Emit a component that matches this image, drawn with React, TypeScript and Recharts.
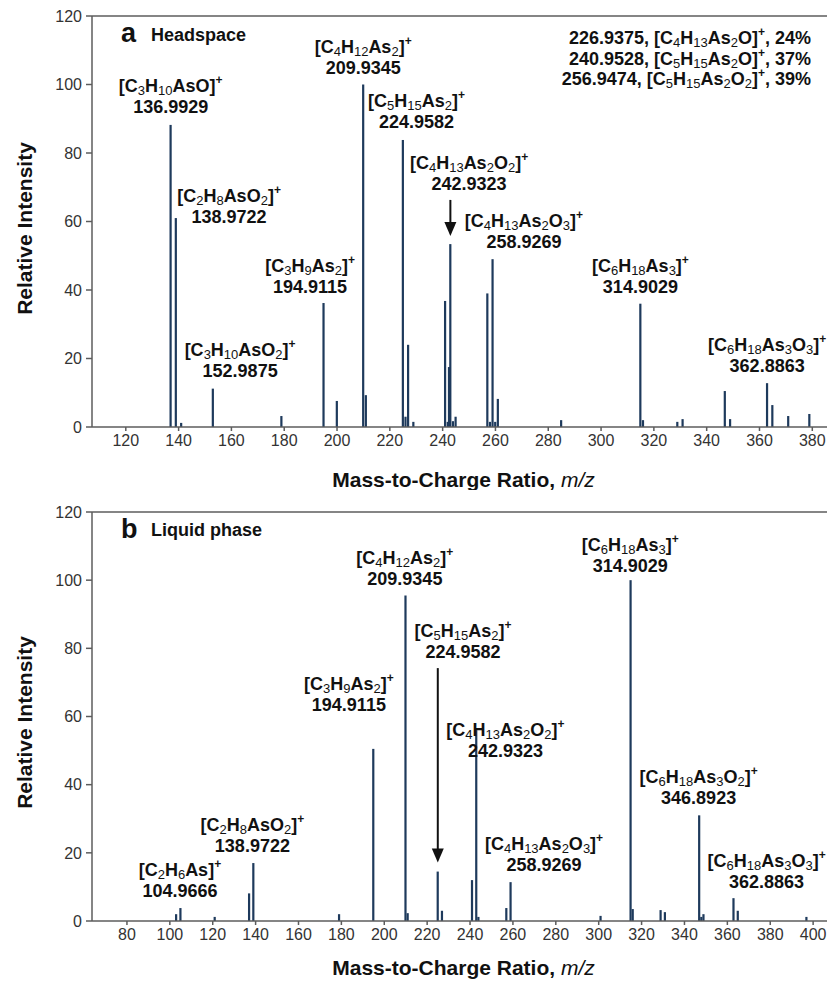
import React from "react";
import {
  BarChart,
  Bar,
  XAxis,
  YAxis,
  ReferenceLine,
  ReferenceDot,
} from "recharts";

const FONT = "'Liberation Sans', Arial, Helvetica, sans-serif";
const BAR = "#1e3a5c";
const AXIS = "#5c5c5c";
const INK = "#111";

// (a) headspace spectrum
const headspaceMz = [
  136.99, 138.97, 140.99, 152.99, 178.95, 194.91, 199.95, 209.93, 210.94,
  224.96, 225.96, 226.94, 228.93, 240.95, 241.95, 242.43, 242.93, 243.93,
  244.93, 256.95, 257.95, 258.93, 259.93, 260.93, 284.9, 314.9, 315.9, 328.9,
  330.9, 346.89, 348.89, 362.89, 364.89, 370.9, 378.9,
];
const headspaceIntensity = [
  88.2, 61, 1.2, 11.2, 3.2, 36.2, 7.6, 100, 9.3, 83.8, 3, 24, 1.5, 36.8, 1.5,
  17.5, 53.4, 1.7, 3, 39, 1.5, 49, 1.5, 8.2, 2, 36, 2, 1.5, 2.3, 10.5, 2.3,
  12.8, 6.4, 3.2, 3.8,
];

// (b) liquid phase spectrum
const liquidMz = [
  102.96, 104.97, 120.95, 136.99, 138.97, 178.95, 194.91, 209.93, 210.94,
  224.96, 226.94, 240.95, 242.93, 243.93, 256.95, 258.93, 300.9, 314.9, 315.9,
  328.9, 330.9, 346.89, 347.89, 348.89, 362.89, 364.89, 396.9,
];
const liquidIntensity = [
  2, 3.8, 1.2, 8.1, 17, 2, 50.5, 95.5, 2.3, 14.5, 3, 12, 56, 1.2, 3.8, 11.4,
  1.5, 100, 3.5, 3.2, 2.6, 31, 1.2, 2, 6.7, 3, 1.2,
];

const yTicks = [0, 20, 40, 60, 80, 100, 120];
const headspaceXTicks = [120, 140, 160, 180, 200, 220, 240, 260, 280, 300, 320, 340, 360, 380];
const liquidXTicks = [80, 100, 120, 140, 160, 180, 200, 220, 240, 260, 280, 300, 320, 340, 360, 380, 400];

// labelled peaks: formula, exact mass
const headspaceFormulas = [
  "[C3H10AsO]+", "[C2H8AsO2]+", "[C3H10AsO2]+", "[C3H9As2]+", "[C4H12As2]+",
  "[C5H15As2]+", "[C4H13As2O2]+", "[C4H13As2O3]+", "[C6H18As3]+", "[C6H18As3O3]+",
];
const headspaceMasses = [
  "136.9929", "138.9722", "152.9875", "194.9115", "209.9345",
  "224.9582", "242.9323", "258.9269", "314.9029", "362.8863",
];
const liquidFormulas = [
  "[C2H6As]+", "[C2H8AsO2]+", "[C3H9As2]+", "[C4H12As2]+", "[C5H15As2]+",
  "[C4H13As2O2]+", "[C4H13As2O3]+", "[C6H18As3]+", "[C6H18As3O2]+", "[C6H18As3O3]+",
];
const liquidMasses = [
  "104.9666", "138.9722", "194.9115", "209.9345", "224.9582",
  "242.9323", "258.9269", "314.9029", "346.8923", "362.8863",
];

// minor headspace ions listed in the corner
const noteMasses = ["226.9375", "240.9528", "256.9474"];
const noteFormulas = ["[C4H13As2O]+", "[C5H15As2O]+", "[C5H15As2O2]+"];
const notePercents = ["24%", "37%", "39%"];

// where each label sits (m/z, intensity of the mass line baseline)
const headspaceLabelAt = [
  [137.0, 91.7], [159.1, 59.6], [163.3, 14.6], [189.8, 39.1], [209.9, 103.1],
  [230.1, 87.3], [250.0, 69.2], [270.8, 52.3], [314.9, 39.1], [362.9, 16.1],
];
const liquidLabelAt = [
  [104.7, 7.0], [138.5, 20.1], [183.5, 61.6], [209.6, 98.7], [236.7, 77.1],
  [256.5, 48.2], [274.5, 14.6], [314.7, 102.5], [346.6, 34.2], [378.3, 9.6],
];

const headspaceData = headspaceMz.map((mz, i) => ({ mz, intensity: headspaceIntensity[i] }));
const liquidData = liquidMz.map((mz, i) => ({ mz, intensity: liquidIntensity[i] }));

// digits -> subscript, "+" -> superscript
function formulaSpans(text: string, key: string) {
  const parts = text.match(/\d+|\+|[^\d+]+/g) || [];
  let shift = 0;
  const spans = parts.map((p, i) => {
    let target = 0;
    let size = 18;
    let weight = 700;
    if (/^\d+$/.test(p)) {
      target = 3;
      size = 13;
      weight = 400;
    } else if (p === "+") {
      target = -8;
      size = 12;
    }
    const dy = target - shift;
    shift = target;
    return (
      <tspan key={key + i} dy={dy} fontSize={size} fontWeight={weight}>
        {p}
      </tspan>
    );
  });
  return { spans, shift };
}

const peakLabel = (formula: string, mass: string) => (p: any) => (
  <g>
    <text x={p.cx} y={p.cy - 21} textAnchor="middle" fontFamily={FONT} fontWeight={700} fontSize={18} fill={INK}>
      {formulaSpans(formula, "f").spans}
    </text>
    <text x={p.cx} y={p.cy} textAnchor="middle" fontFamily={FONT} fontWeight={700} fontSize={18} fill={INK}>
      {mass}
    </text>
  </g>
);

const thinBar = (p: any) => {
  const cx = p.x + p.width / 2;
  if (!isFinite(cx) || !(p.height > 0)) return <g />;
  return <rect x={cx - 1.1} y={p.y} width={2.2} height={p.height} fill={BAR} />;
};

const arrowShape = (p: any) => (
  <g>
    <line x1={p.x1} y1={p.y1} x2={p.x2} y2={p.y2 - 12} stroke={INK} strokeWidth={2} />
    <polygon points={`${p.x2 - 6},${p.y2 - 14} ${p.x2 + 6},${p.y2 - 14} ${p.x2},${p.y2}`} fill={INK} />
  </g>
);

const tickStyle = { fill: "#333", fontSize: 16, fontFamily: FONT };

const AxisTitles = ({ xBase, yMid }: { xBase: number; yMid: number }) => (
  <g fontFamily={FONT} fill={INK}>
    <text x={463.5} y={xBase} textAnchor="middle" fontSize={21} fontWeight={700}>
      Mass-to-Charge Ratio,{" "}
      <tspan fontStyle="italic" fontWeight={400}>
        m/z
      </tspan>
    </text>
    <text transform="rotate(-90)" x={-yMid} y={32} textAnchor="middle" fontSize={21} fontWeight={700}>
      Relative Intensity
    </text>
  </g>
);

const App: React.FC = () => {
  return (
    <div style={{ position: "relative", width: 835, height: 982, margin: "-8px 0 0 -8px" }}>
      <div style={{ position: "absolute", left: 0, top: 0 }}>
        <BarChart width={835} height={490} data={headspaceData} margin={{ top: 16, right: 0, bottom: 23, left: 0 }}>
          <XAxis
            dataKey="mz"
            type="number"
            domain={[107.2, 388.6]}
            allowDataOverflow
            ticks={headspaceXTicks}
            interval={0}
            height={40}
            tickSize={4}
            tickMargin={4}
            tick={tickStyle}
            stroke={AXIS}
            strokeWidth={1.5}
          />
          <YAxis
            type="number"
            domain={[0, 120]}
            ticks={yTicks}
            interval={0}
            width={92}
            tickSize={6}
            tickMargin={4}
            tick={tickStyle}
            stroke={AXIS}
            strokeWidth={1.5}
          />
          <ReferenceLine y={120} stroke={AXIS} strokeWidth={1.5} />
          <Bar dataKey="intensity" fill={BAR} barSize={2} shape={thinBar} isAnimationActive={false} />
          <ReferenceLine
            segment={[{ x: 242.93, y: 66.3 }, { x: 242.93, y: 55.8 }]}
            shape={arrowShape}
          />
          {headspaceLabelAt.map(([x, y], i) => (
            <ReferenceDot
              key={"hl" + i}
              x={x}
              y={y}
              r={0}
              shape={peakLabel(headspaceFormulas[i], headspaceMasses[i])}
            />
          ))}
          <g fontFamily={FONT} fill={INK} fontWeight={700}>
            <text x={121} y={42} fontSize={27}>a</text>
            <text x={151} y={41} fontSize={18}>Headspace</text>
            {noteMasses.map((m, i) => {
              const f = formulaSpans(noteFormulas[i], "n" + i);
              return (
                <text key={"note" + i} x={811} y={44 + i * 20.5} textAnchor="end" fontSize={18}>
                  <tspan>{m + ", "}</tspan>
                  {f.spans}
                  <tspan dy={-f.shift}>{", " + notePercents[i]}</tspan>
                </text>
              );
            })}
          </g>
          <AxisTitles xBase={487} yMid={228.5} />
        </BarChart>
      </div>
      <div style={{ position: "absolute", left: 0, top: 490 }}>
        <BarChart width={835} height={492} data={liquidData} margin={{ top: 22, right: 0, bottom: 21, left: 0 }}>
          <XAxis
            dataKey="mz"
            type="number"
            domain={[63.7, 410.2]}
            allowDataOverflow
            ticks={liquidXTicks}
            interval={0}
            height={40}
            tickSize={4}
            tickMargin={4}
            tick={tickStyle}
            stroke={AXIS}
            strokeWidth={1.5}
          />
          <YAxis
            type="number"
            domain={[0, 120]}
            ticks={yTicks}
            interval={0}
            width={92}
            tickSize={6}
            tickMargin={4}
            tick={tickStyle}
            stroke={AXIS}
            strokeWidth={1.5}
          />
          <ReferenceLine y={120} stroke={AXIS} strokeWidth={1.5} />
          <Bar dataKey="intensity" fill={BAR} barSize={2} shape={thinBar} isAnimationActive={false} />
          <ReferenceLine
            segment={[{ x: 224.96, y: 74.2 }, { x: 224.96, y: 17.2 }]}
            shape={arrowShape}
          />
          {liquidLabelAt.map(([x, y], i) => (
            <ReferenceDot
              key={"ll" + i}
              x={x}
              y={y}
              r={0}
              shape={peakLabel(liquidFormulas[i], liquidMasses[i])}
            />
          ))}
          <g fontFamily={FONT} fill={INK} fontWeight={700}>
            <text x={121} y={48} fontSize={27}>b</text>
            <text x={151} y={46} fontSize={18}>Liquid phase</text>
          </g>
          <AxisTitles xBase={485} yMid={232.5} />
        </BarChart>
      </div>
    </div>
  );
};

export default App;
